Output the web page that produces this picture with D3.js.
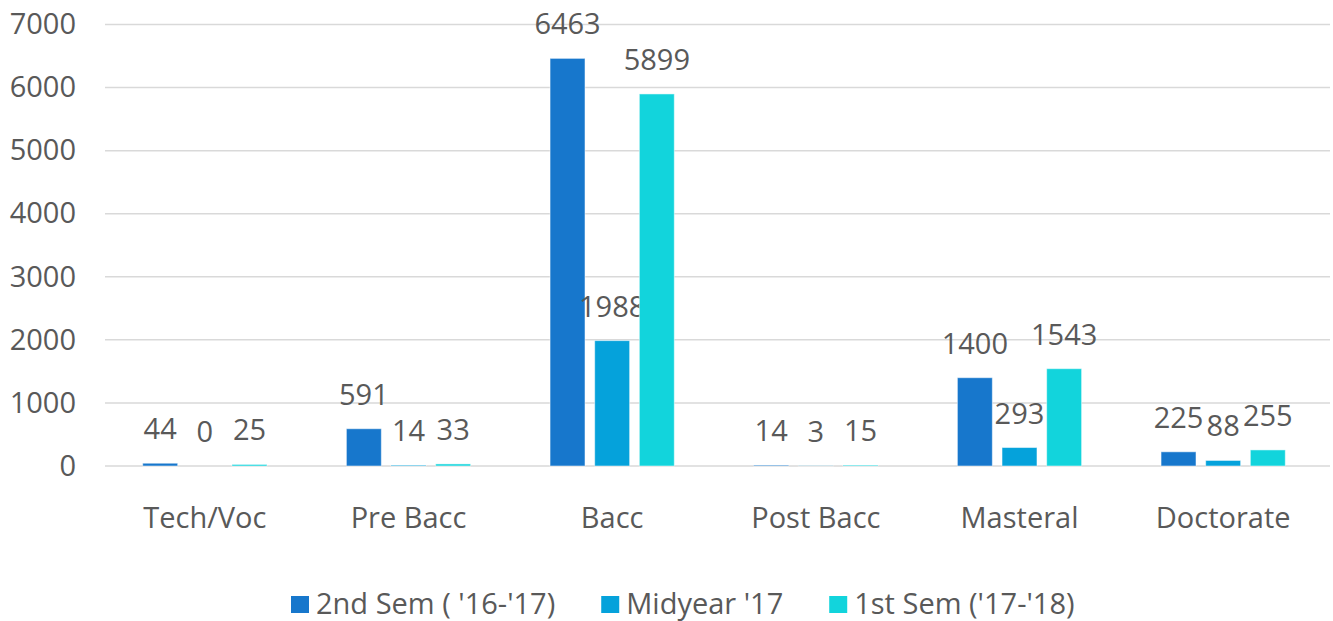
<!DOCTYPE html>
<html>
<head>
<meta charset="utf-8">
<script src="https://cdn.jsdelivr.net/npm/d3@7"></script>
<style>
  body { margin: 0; background: #fff; }
  text { font-family: "Open Sans", sans-serif; fill: #595959; }
</style>
</head>
<body>
<div id="chart"></div>
<script>
// categories and series
const categories = ["Tech/Voc", "Pre Bacc", "Bacc", "Post Bacc", "Masteral", "Doctorate"];
const seriesNames = ["2nd Sem ( '16-'17)", "Midyear '17", "1st Sem ('17-'18)"];
const sem2_1617 = [44, 591, 6463, 14, 1400, 225];
const midyear17 = [0, 14, 1988, 3, 293, 88];
const sem1_1718 = [25, 33, 5899, 15, 1543, 255];
const yTicks = [0, 1000, 2000, 3000, 4000, 5000, 6000, 7000];
const colors = ["#1777cc", "#05a2db", "#12d4dc"];

const width = 1333, height = 621;
const fontSize = 29;
const seriesValues = [sem2_1617, midyear17, sem1_1718];

const svg = d3.select("#chart").append("svg")
    .attr("width", width)
    .attr("height", height);

const x0 = d3.scaleBand()
    .domain(categories)
    .range([103, 1325])
    .paddingInner(0.39)
    .paddingOuter(0.195);

const x1 = d3.scaleBand()
    .domain(seriesNames)
    .range([0, x0.bandwidth()])
    .paddingInner(0.217);

const y = d3.scaleLinear()
    .domain([0, 7000])
    .range([466, 24.5]);

// gridlines
svg.append("g")
    .selectAll("line")
    .data(yTicks)
    .enter().append("line")
    .attr("x1", 105)
    .attr("x2", 1330)
    .attr("y1", d => y(d))
    .attr("y2", d => y(d))
    .attr("stroke", "#d9d9d9")
    .attr("stroke-width", 1.5);

// y axis labels
const yAxis = svg.append("g")
    .attr("transform", "translate(76,0)")
    .call(d3.axisLeft(y).tickValues(yTicks).tickFormat(d3.format("d")).tickSize(0).tickPadding(0));
yAxis.select(".domain").remove();
yAxis.selectAll("text")
    .attr("font-family", "Open Sans")
    .attr("font-size", fontSize)
    .style("fill", "#595959");

// x axis labels
const xAxis = svg.append("g")
    .attr("transform", "translate(0,507)")
    .call(d3.axisBottom(x0).tickSize(0).tickPadding(0));
xAxis.select(".domain").remove();
xAxis.selectAll("text")
    .attr("font-family", "Open Sans")
    .attr("font-size", fontSize)
    .style("fill", "#595959");

// bars
const groups = svg.append("g")
    .selectAll("g")
    .data(categories)
    .enter().append("g")
    .attr("transform", d => `translate(${x0(d)},0)`);

const cells = groups.selectAll("g")
    .data((c, i) => seriesNames.map((s, j) => ({ series: s, j: j, value: seriesValues[j][i] })))
    .enter().append("g");

cells.append("rect")
    .attr("x", d => x1(d.series))
    .attr("y", d => y(d.value))
    .attr("width", x1.bandwidth())
    .attr("height", d => y(0) - y(d.value))
    .attr("fill", d => colors[d.j])
    .attr("stroke", "#ffffff")
    .attr("stroke-opacity", 0.5)
    .attr("stroke-width", 1);

cells.append("text")
    .attr("x", d => x1(d.series) + x1.bandwidth() / 2)
    .attr("y", d => y(d.value) - 24)
    .attr("text-anchor", "middle")
    .attr("font-size", fontSize)
    .text(d => d.value);

// legend
const items = svg.append("g")
    .selectAll("g")
    .data(seriesNames)
    .enter().append("g");

items.append("rect")
    .attr("width", 18)
    .attr("height", 17)
    .attr("y", 596)
    .attr("fill", (d, i) => colors[i]);

items.append("text")
    .attr("x", 25)
    .attr("y", 614)
    .attr("font-size", fontSize)
    .text(d => d);

let offset = 291;
const legendPos = [];
items.each(function () {
    legendPos.push(offset);
    offset += 25 + d3.select(this).select("text").node().getComputedTextLength() + 46;
});
items.attr("transform", (d, i) => `translate(${legendPos[i]},0)`);
</script>
</body>
</html>
